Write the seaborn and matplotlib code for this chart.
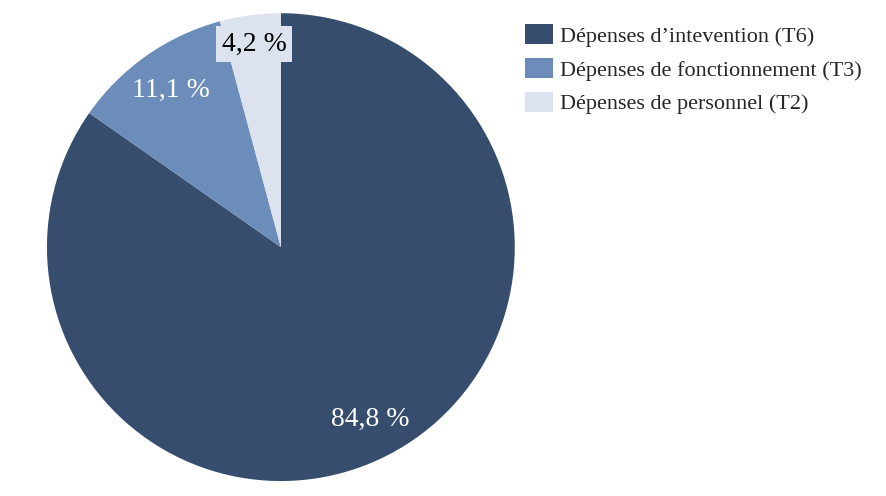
import numpy as np
import matplotlib
matplotlib.use("Agg")
import matplotlib.pyplot as plt
import seaborn as sns

CATEGORIES = ["Dépenses d\u2019intevention (T6)",
              "Dépenses de fonctionnement (T3)",
              "Dépenses de personnel (T2)"]
SHARES = [84.8, 11.1, 4.2]
COLORS = ["#374d6d", "#6c8dba", "#dce2ee"]
LABEL_COLORS = ["white", "white", "black"]

sns.set_theme(style="white")
plt.rcParams["font.family"] = ["Liberation Serif", "DejaVu Serif"]

fig = plt.figure(figsize=(8.86, 4.96), dpi=100)
ax = fig.add_axes([0.053, 0.030, 0.528, 0.9435])

wedges, _ = ax.pie(SHARES, colors=COLORS, startangle=90, counterclock=False,
                   wedgeprops=dict(linewidth=0))

# labels from the data itself (shares sum to 100.1, so no autopct rescaling)
dist = [0.83, 0.82, 0.875]
for w, val, col, d in zip(wedges, SHARES, LABEL_COLORS, dist):
    mid = np.deg2rad((w.theta1 + w.theta2) / 2)
    t = ax.text(d * np.cos(mid), d * np.sin(mid), f"{val:.1f} %".replace(".", ","),
                ha="center", va="center", color=col, fontsize=20)
    if col == "black":
        t.set_bbox(dict(facecolor=COLORS[2], edgecolor="none", pad=4))

ax.set_aspect("equal")
ax.set_xlim(-1, 1)
ax.set_ylim(-1, 1)

fig.legend(wedges, CATEGORIES, loc="upper left", bbox_to_anchor=(0.570, 0.991),
           frameon=False, fontsize=16, handlelength=1.26, handleheight=1.0,
           handletextpad=0.32, labelspacing=0.5)

plt.savefig("out.png", dpi=100)
